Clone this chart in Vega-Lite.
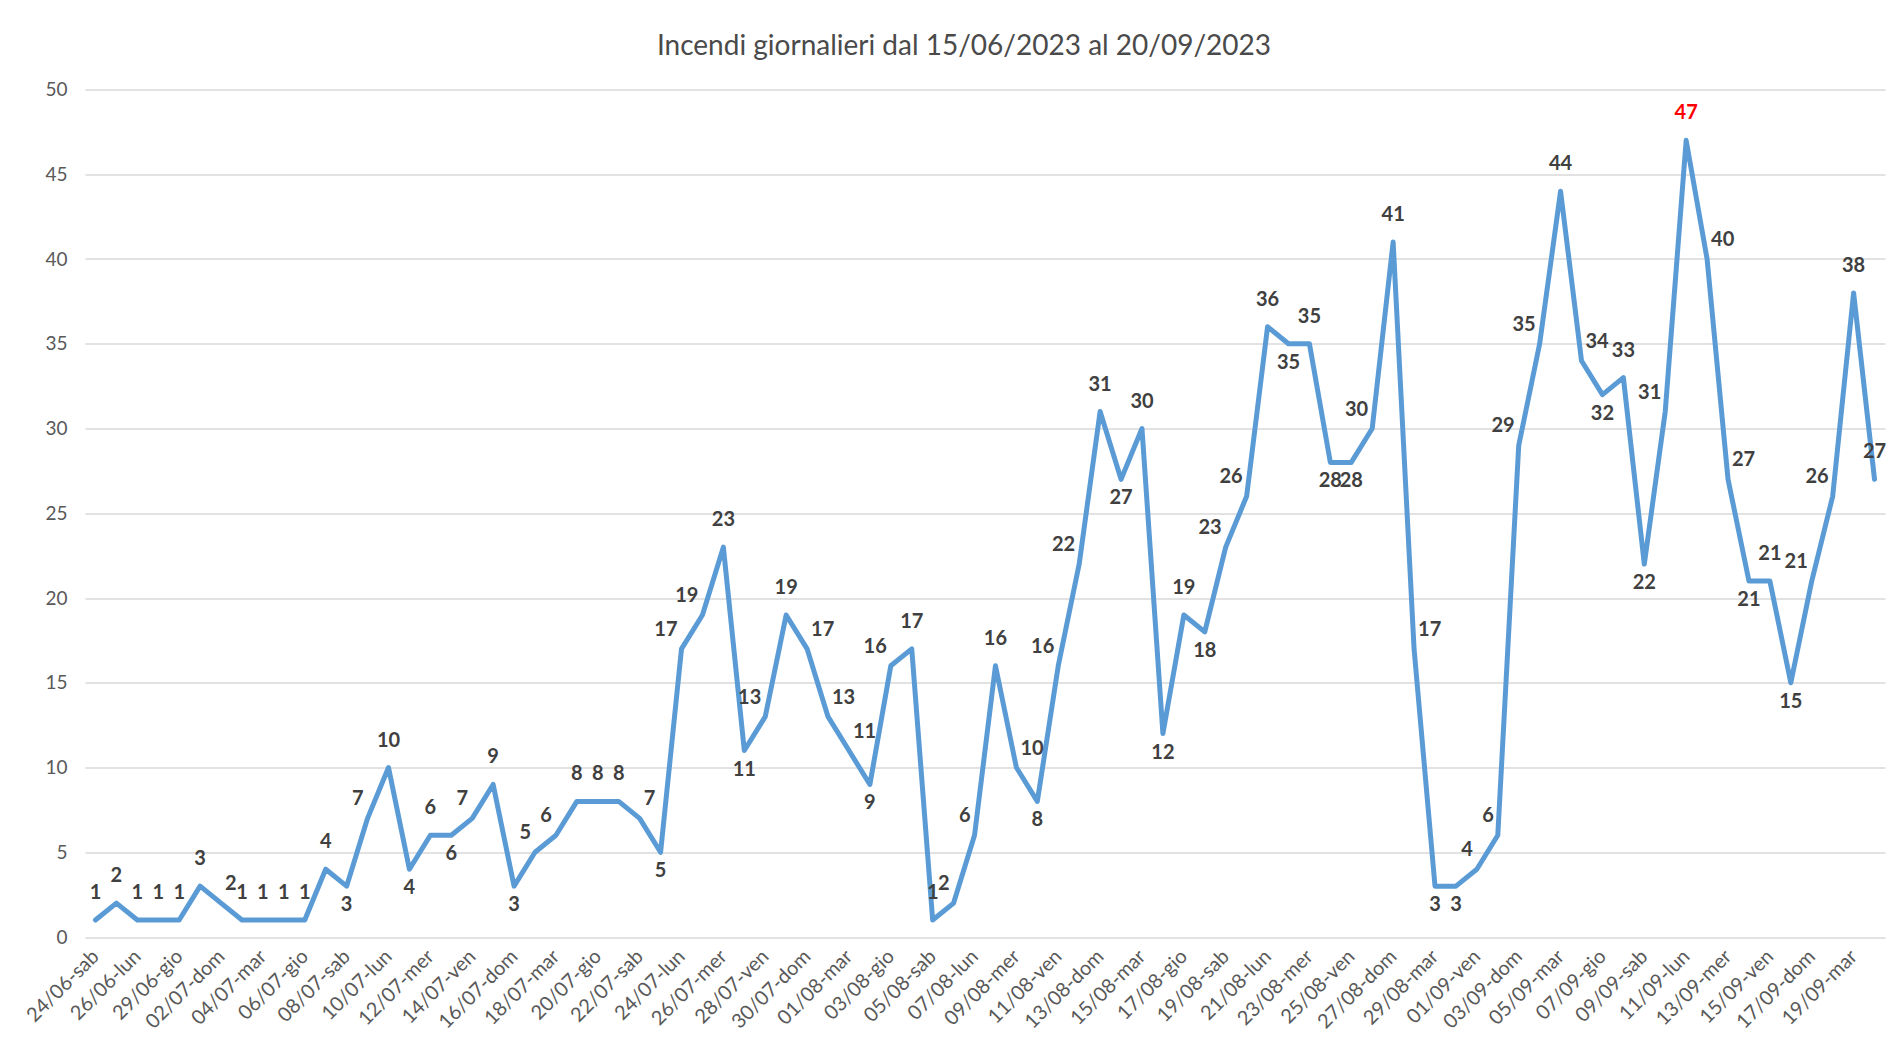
{
  "$schema": "https://vega.github.io/schema/vega-lite/v6.json",
  "width": 1800,
  "height": 847.5,
  "autosize": {"type": "none"},
  "padding": {"left": 85, "top": 89.5, "right": 11, "bottom": 100},
  "background": "white",
  "config": {"font": "Lato", "view": {"stroke": null}},
  "title": {
    "text": "Incendi giornalieri dal 15/06/2023 al 20/09/2023",
    "font": "Lato",
    "fontSize": 28,
    "fontWeight": "normal",
    "color": "#4A4A4A",
    "anchor": "middle",
    "offset": 20,
    "dx": -21
  },
  "data": {
    "values": [
      {"d": "24/06-sab", "v": 1}, {"d": "25/06-dom", "v": 2}, {"d": "26/06-lun", "v": 1}, {"d": "27/06-mar", "v": 1},
      {"d": "29/06-gio", "v": 1}, {"d": "30/06-ven", "v": 3}, {"d": "02/07-dom", "v": 2}, {"d": "03/07-lun", "v": 1},
      {"d": "04/07-mar", "v": 1}, {"d": "05/07-mer", "v": 1}, {"d": "06/07-gio", "v": 1}, {"d": "07/07-ven", "v": 4},
      {"d": "08/07-sab", "v": 3}, {"d": "09/07-dom", "v": 7}, {"d": "10/07-lun", "v": 10}, {"d": "11/07-mar", "v": 4},
      {"d": "12/07-mer", "v": 6}, {"d": "13/07-gio", "v": 6}, {"d": "14/07-ven", "v": 7}, {"d": "15/07-sab", "v": 9},
      {"d": "16/07-dom", "v": 3}, {"d": "17/07-lun", "v": 5}, {"d": "18/07-mar", "v": 6}, {"d": "19/07-mer", "v": 8},
      {"d": "20/07-gio", "v": 8}, {"d": "21/07-ven", "v": 8}, {"d": "22/07-sab", "v": 7}, {"d": "23/07-dom", "v": 5},
      {"d": "24/07-lun", "v": 17}, {"d": "25/07-mar", "v": 19}, {"d": "26/07-mer", "v": 23}, {"d": "27/07-gio", "v": 11},
      {"d": "28/07-ven", "v": 13}, {"d": "29/07-sab", "v": 19}, {"d": "30/07-dom", "v": 17}, {"d": "31/07-lun", "v": 13},
      {"d": "01/08-mar", "v": 11}, {"d": "02/08-mer", "v": 9}, {"d": "03/08-gio", "v": 16}, {"d": "04/08-ven", "v": 17},
      {"d": "05/08-sab", "v": 1}, {"d": "06/08-dom", "v": 2}, {"d": "07/08-lun", "v": 6}, {"d": "08/08-mar", "v": 16},
      {"d": "09/08-mer", "v": 10}, {"d": "10/08-gio", "v": 8}, {"d": "11/08-ven", "v": 16}, {"d": "12/08-sab", "v": 22},
      {"d": "13/08-dom", "v": 31}, {"d": "14/08-lun", "v": 27}, {"d": "15/08-mar", "v": 30}, {"d": "16/08-mer", "v": 12},
      {"d": "17/08-gio", "v": 19}, {"d": "18/08-ven", "v": 18}, {"d": "19/08-sab", "v": 23}, {"d": "20/08-dom", "v": 26},
      {"d": "21/08-lun", "v": 36}, {"d": "22/08-mar", "v": 35}, {"d": "23/08-mer", "v": 35}, {"d": "24/08-gio", "v": 28},
      {"d": "25/08-ven", "v": 28}, {"d": "26/08-sab", "v": 30}, {"d": "27/08-dom", "v": 41}, {"d": "28/08-lun", "v": 17},
      {"d": "29/08-mar", "v": 3}, {"d": "30/08-mer", "v": 3}, {"d": "01/09-ven", "v": 4}, {"d": "02/09-sab", "v": 6},
      {"d": "03/09-dom", "v": 29}, {"d": "04/09-lun", "v": 35}, {"d": "05/09-mar", "v": 44}, {"d": "06/09-mer", "v": 34},
      {"d": "07/09-gio", "v": 32}, {"d": "08/09-ven", "v": 33}, {"d": "09/09-sab", "v": 22}, {"d": "10/09-dom", "v": 31},
      {"d": "11/09-lun", "v": 47}, {"d": "12/09-mar", "v": 40}, {"d": "13/09-mer", "v": 27}, {"d": "14/09-gio", "v": 21},
      {"d": "15/09-ven", "v": 21}, {"d": "16/09-sab", "v": 15}, {"d": "17/09-dom", "v": 21}, {"d": "18/09-lun", "v": 26},
      {"d": "19/09-mar", "v": 38}, {"d": "20/09-mer", "v": 27}
    ]
  },
  "transform": [
    {"window": [{"op": "lag", "field": "v", "as": "pv"}, {"op": "lead", "field": "v", "as": "nx"}], "frame": [null, null]},
    {"joinaggregate": [{"op": "max", "field": "v", "as": "mx"}]}
  ],
  "encoding": {
    "x": {
      "field": "d",
      "type": "ordinal",
      "sort": null,
      "scale": {"type": "point", "padding": 0.5},
      "axis": {
        "title": null,
        "values": ["24/06-sab", "26/06-lun", "29/06-gio", "02/07-dom", "04/07-mar", "06/07-gio", "08/07-sab", "10/07-lun", "12/07-mer", "14/07-ven", "16/07-dom", "18/07-mar", "20/07-gio", "22/07-sab", "24/07-lun", "26/07-mer", "28/07-ven", "30/07-dom", "01/08-mar", "03/08-gio", "05/08-sab", "07/08-lun", "09/08-mer", "11/08-ven", "13/08-dom", "15/08-mar", "17/08-gio", "19/08-sab", "21/08-lun", "23/08-mer", "25/08-ven", "27/08-dom", "29/08-mar", "01/09-ven", "03/09-dom", "05/09-mar", "07/09-gio", "09/09-sab", "11/09-lun", "13/09-mer", "15/09-ven", "17/09-dom", "19/09-mar"],
        "labelAngle": -45,
        "labelAlign": "right",
        "labelBaseline": "middle",
        "labelPadding": 16,
        "labelFontSize": 20,
        "labelColor": "#595959",
        "labelFont": "Lato",
        "ticks": false,
        "domain": false,
        "grid": false,
        "labelOverlap": false
      }
    },
    "y": {
      "field": "v",
      "type": "quantitative",
      "scale": {"domain": [0, 50], "nice": false},
      "axis": {
        "title": null,
        "values": [0, 5, 10, 15, 20, 25, 30, 35, 40, 45, 50],
        "grid": true,
        "gridColor": "#D9D9D9",
        "gridWidth": 1.5,
        "ticks": false,
        "domain": false,
        "labelPadding": 18,
        "labelFontSize": 19,
        "labelColor": "#595959",
        "labelFont": "Lato"
      }
    }
  },
  "layer": [
    {
      "mark": {"type": "line", "color": "#5B9BD5", "strokeWidth": 5, "strokeJoin": "round", "strokeCap": "round"}
    },
    {
      "transform": [{"filter": "!(isValid(datum.nx) && datum.v > 2 && datum.v <= (isValid(datum.pv) ? datum.pv : datum.v) && datum.v <= datum.nx && (datum.v < (isValid(datum.pv) ? datum.pv : datum.v) || datum.v < datum.nx)) && !(isValid(datum.nx) && (isValid(datum.pv) ? datum.pv : datum.v) < datum.v && datum.v < datum.nx) && !(isValid(datum.nx) && (isValid(datum.pv) ? datum.pv : datum.v) > datum.v && datum.v > datum.nx)"}],
      "mark": {"type": "text", "font": "Lato", "fontSize": 20, "fontWeight": "bold", "baseline": "alphabetic", "dy": -21},
      "encoding": {
        "text": {"field": "v", "type": "quantitative"},
        "color": {"condition": {"test": "datum.v == datum.mx", "value": "#FF0000"}, "value": "#404040"}
      }
    },
    {
      "transform": [{"filter": "isValid(datum.nx) && (isValid(datum.pv) ? datum.pv : datum.v) < datum.v && datum.v < datum.nx"}],
      "mark": {"type": "text", "font": "Lato", "fontSize": 20, "fontWeight": "bold", "baseline": "alphabetic", "align": "right", "dy": -13, "dx": -4},
      "encoding": {
        "text": {"field": "v", "type": "quantitative"},
        "color": {"condition": {"test": "datum.v == datum.mx", "value": "#FF0000"}, "value": "#404040"}
      }
    },
    {
      "transform": [{"filter": "isValid(datum.nx) && (isValid(datum.pv) ? datum.pv : datum.v) > datum.v && datum.v > datum.nx"}],
      "mark": {"type": "text", "font": "Lato", "fontSize": 20, "fontWeight": "bold", "baseline": "alphabetic", "align": "left", "dy": -13, "dx": 4},
      "encoding": {
        "text": {"field": "v", "type": "quantitative"},
        "color": {"condition": {"test": "datum.v == datum.mx", "value": "#FF0000"}, "value": "#404040"}
      }
    },
    {
      "transform": [{"filter": "isValid(datum.nx) && datum.v > 2 && datum.v <= (isValid(datum.pv) ? datum.pv : datum.v) && datum.v <= datum.nx && (datum.v < (isValid(datum.pv) ? datum.pv : datum.v) || datum.v < datum.nx)"}],
      "mark": {"type": "text", "font": "Lato", "fontSize": 20, "fontWeight": "bold", "baseline": "top", "dy": 9},
      "encoding": {
        "text": {"field": "v", "type": "quantitative"},
        "color": {"condition": {"test": "datum.v == datum.mx", "value": "#FF0000"}, "value": "#404040"}
      }
    }
  ]
}
